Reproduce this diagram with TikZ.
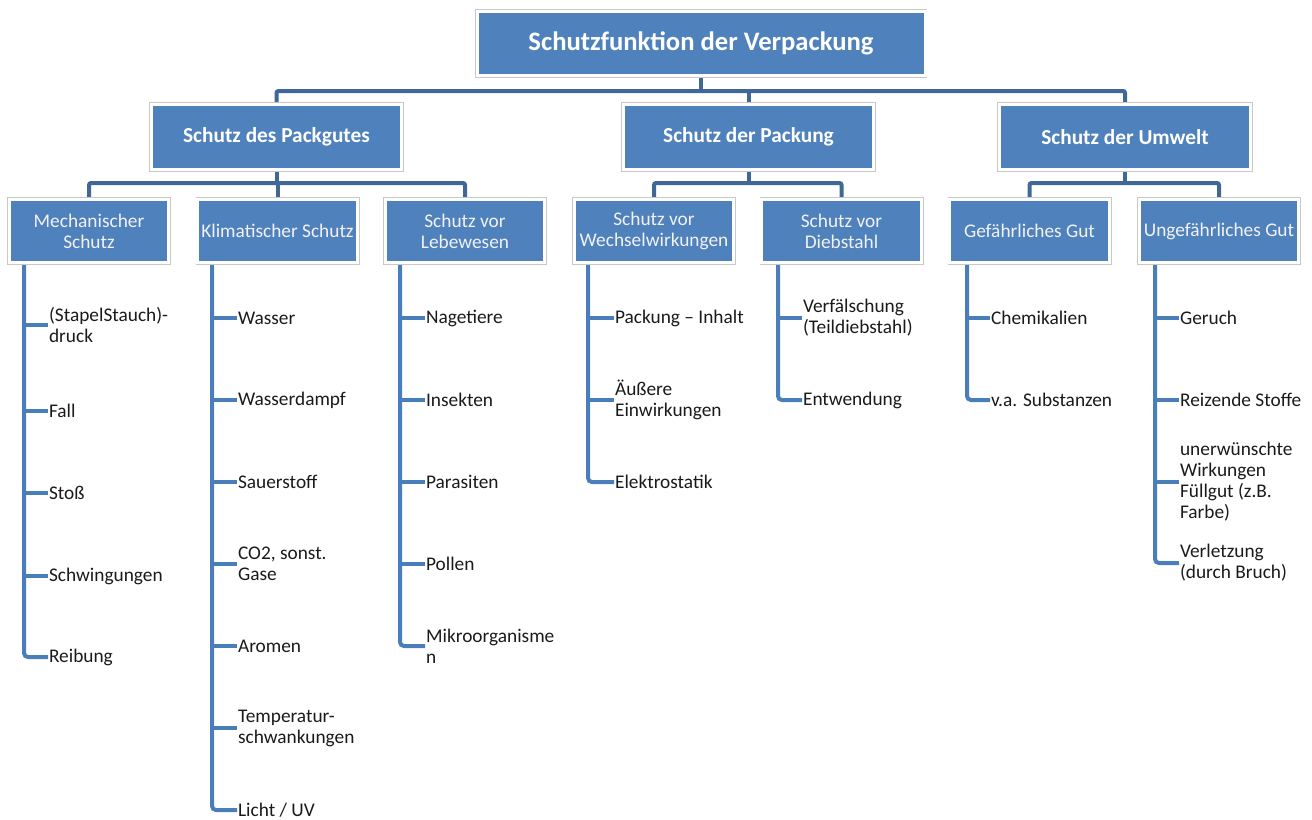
\documentclass[tikz,border=0pt]{standalone}
\usepackage{fontspec}
\setmainfont{Carlito}
\usetikzlibrary{calc}
\definecolor{boxblue}{HTML}{4F81BD}
\definecolor{boxgray}{HTML}{C8C8C8}
\definecolor{darkline}{HTML}{3F6798}
\definecolor{leafline}{HTML}{4A7EBB}
\definecolor{leaftext}{HTML}{1A1A1A}
\pgfdeclarelayer{bg}
\pgfsetlayers{bg,main}
\begin{document}
\begin{tikzpicture}[x=0.75pt,y=-0.75pt,
  box/.style={fill=boxblue, draw=white, line width=2.25pt,
    preaction={draw=boxgray, line width=3.4pt},
    text=white, align=center, inner sep=0pt},
  topbox/.style={box, minimum width=336pt, minimum height=48.4pt,
    font=\fontsize{20}{24}\selectfont\bfseries},
  midbox/.style={box, minimum width=188pt, minimum height=49pt,
    font=\fontsize{16}{19}\selectfont\bfseries},
  lowbox/.style={box, minimum width=119.6pt, minimum height=47.6pt,
    font=\fontsize{14.5}{15.75}\selectfont, text=white!95!black},
  leaf/.style={anchor=west, align=left, inner sep=0.6pt, text=leaftext,
    font=\fontsize{14.5}{15.75}\selectfont},
  conn/.style={draw=darkline, line width=3pt, rounded corners=1.5pt},
  leafconn/.style={draw=leafline, line width=3pt, rounded corners=3pt}]
\useasboundingbox (0,0) rectangle (1312,819);

% boxes
\node[topbox] (top) at (701,43.5) {Schutzfunktion der Verpackung};
\node[midbox] (pg) at (276.5,137) {Schutz des Packgutes};
\node[midbox] (pp) at (748.5,137) {Schutz der Packung};
\node[midbox] (pu) at (1125,137) {Schutz der Umwelt};

\node[lowbox] (mech) at (89,231) {Mechanischer\\Schutz};
\node[lowbox] (kli) at (277.5,231) {Klimatischer Schutz};
\node[lowbox] (leb) at (465,231) {Schutz vor\\Lebewesen};
\node[lowbox] (wec) at (654,231) {Schutz vor\\Wechselwirkungen};
\node[lowbox] (die) at (841.5,231) {Schutz vor\\Diebstahl};
\node[lowbox] (gef) at (1029.5,231) {Gefährliches Gut};
\node[lowbox] (ung) at (1219,231) {Ungefährliches Gut};

% leaves
\node[leaf] (m1) at (48,325) {(StapelStauch)-\\druck};
\node[leaf] (m2) at (48,411) {Fall};
\node[leaf] (m3) at (48,493) {Stoß};
\node[leaf] (m4) at (48,576) {Schwingungen};
\node[leaf] (m5) at (48,657) {Reibung};

\node[leaf] (k1) at (237,318) {Wasser};
\node[leaf] (k2) at (237,400) {Wasserdampf};
\node[leaf] (k3) at (237,482) {Sauerstoff};
\node[leaf] (k4) at (237,564) {CO2, sonst.\\Gase};
\node[leaf] (k5) at (237,646) {Aromen};
\node[leaf] (k6) at (237,728) {Temperatur-\\schwankungen};
\node[leaf] (k7) at (237,810) {Licht / UV};

\node[leaf] (l1) at (425,318) {Nagetiere};
\node[leaf] (l2) at (425,400) {Insekten};
\node[leaf] (l3) at (425,482) {Parasiten};
\node[leaf] (l4) at (425,564) {Pollen};
\node[leaf] (l5) at (425,646) {Mikroorganisme\\n};

\node[leaf] (w1) at (614,318) {Packung – Inhalt};
\node[leaf] (w2) at (614,400) {Äußere\\Einwirkungen};
\node[leaf] (w3) at (614,482) {Elektrostatik};

\node[leaf] (d1) at (802,318) {Verfälschung\\(Teildiebstahl)};
\node[leaf] (d2) at (802,400) {Entwendung};

\node[leaf] (g1) at (990,318) {Chemikalien};
\node[leaf] (g2) at (990,400) {v.a. Substanzen};

\node[leaf] (u1) at (1179,318) {Geruch};
\node[leaf] (u2) at (1179,400) {Reizende Stoffe};
\node[leaf] (u3) at (1179,482) {unerwünschte\\Wirkungen\\Füllgut (z.B.\\Farbe)};
\node[leaf] (u4) at (1179,563) {Verletzung\\(durch Bruch)};

% helper coordinates
\coordinate (b1) at (0,91);
\coordinate (b2) at (0,183);
\coordinate (vm) at (24,0);
\coordinate (vk) at (212,0);
\coordinate (vl) at (400,0);
\coordinate (vw) at (588,0);
\coordinate (vd) at (778,0);
\coordinate (vg) at (967,0);
\coordinate (vu) at (1155,0);

\begin{pgfonlayer}{bg}
% level 1 -> 2
\draw[conn] (top.south) -- (top.south |- b1);
\draw[conn] (pg.north) |- (pu.north |- b1) -- (pu.north);
\draw[conn] (pp.north) -- (pp.north |- b1);
% level 2 -> 3
\draw[conn] (pg.south) -- (pg.south |- b2);
\draw[conn] (mech.north) |- (leb.north |- b2) -- (leb.north);
\draw[conn] (kli.north) -- (kli.north |- b2);
\draw[conn] (pp.south) -- (pp.south |- b2);
\draw[conn] (wec.north) |- (die.north |- b2) -- (die.north);
\draw[conn] (pu.south) -- (pu.south |- b2);
\draw[conn] (gef.north) |- (ung.north |- b2) -- (ung.north);
% leaves
\draw[leafconn] (mech.south -| vm) |- (m5.west);
\foreach \n in {m1,m2,m3,m4} \draw[leafconn] (\n.west -| vm) -- (\n.west);
\draw[leafconn] (kli.south -| vk) |- (k7.west);
\foreach \n in {k1,k2,k3,k4,k5,k6} \draw[leafconn] (\n.west -| vk) -- (\n.west);
\draw[leafconn] (leb.south -| vl) |- (l5.west);
\foreach \n in {l1,l2,l3,l4} \draw[leafconn] (\n.west -| vl) -- (\n.west);
\draw[leafconn] (wec.south -| vw) |- (w3.west);
\foreach \n in {w1,w2} \draw[leafconn] (\n.west -| vw) -- (\n.west);
\draw[leafconn] (die.south -| vd) |- (d2.west);
\draw[leafconn] (d1.west -| vd) -- (d1.west);
\draw[leafconn] (gef.south -| vg) |- (g2.west);
\draw[leafconn] (g1.west -| vg) -- (g1.west);
\draw[leafconn] (ung.south -| vu) |- (u4.west);
\foreach \n in {u1,u2,u3} \draw[leafconn] (\n.west -| vu) -- (\n.west);
\end{pgfonlayer}
\end{tikzpicture}
\end{document}
